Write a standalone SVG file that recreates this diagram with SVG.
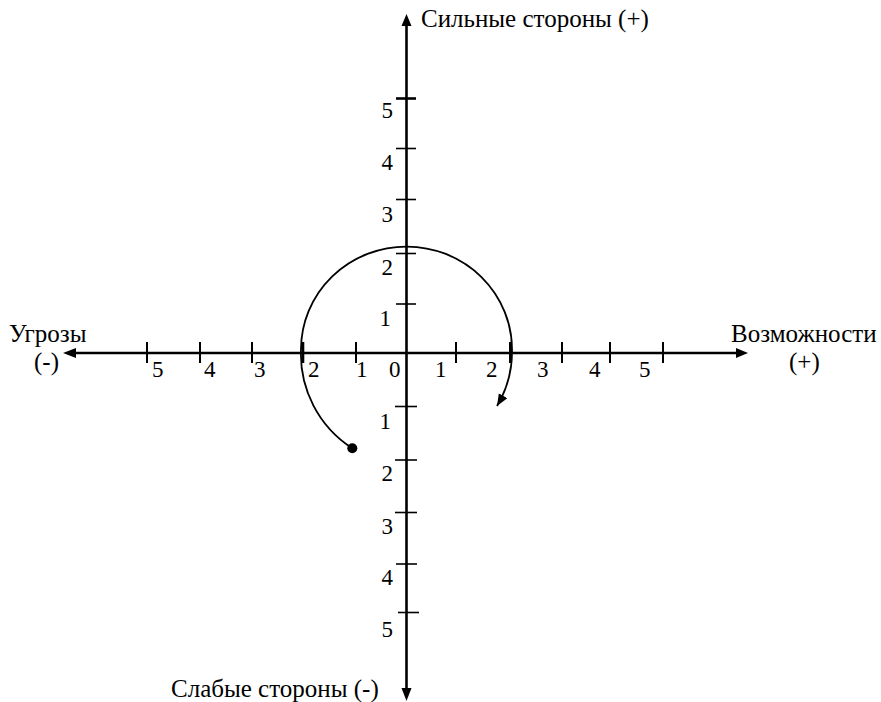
<svg xmlns="http://www.w3.org/2000/svg" width="881" height="702" viewBox="0 0 881 702">
<defs>
<style>
.ax{stroke:#000;stroke-width:2.6;fill:none}
.tk{stroke:#000;stroke-width:2;fill:none}
.tt{stroke-width:1.6}
.cv{stroke:#000;stroke-width:1.8;fill:none}
.hd{fill:#000}
text{font-family:"Liberation Serif","Times New Roman",serif;fill:#000}
.n{font-size:23px}
.lb{font-size:25px}
</style>
<marker id="ah" markerUnits="userSpaceOnUse" markerWidth="14" markerHeight="12" refX="12" refY="5" orient="auto">
<path d="M0,0 L12,5 L0,10 Z" fill="#000"/>
</marker>
</defs>
<rect width="881" height="702" fill="#fff"/>
<g id="connectors">
<line class="ax" x1="406.5" y1="24" x2="406.5" y2="690"/>
<line class="ax" x1="74" y1="353" x2="738" y2="353"/>
<path class="hd" d="M736,348 L748,353 L736,358 Z"/>
<path class="hd" d="M76,348 L63,353 L76,358 Z"/>
<path class="hd" d="M406.5,14 L401.5,26 L411.5,26 Z"/>
<path class="hd" d="M406.5,701 L401.5,688 L411.5,688 Z"/>
</g>
<g id="ticks">
<line class="tk" x1="147" y1="342" x2="147" y2="363"/>
<line class="tk" x1="200" y1="342" x2="200" y2="363"/>
<line class="tk" x1="252" y1="342" x2="252" y2="363"/>
<line class="tk" x1="303" y1="342" x2="303" y2="363" style="stroke-width:2.6"/>
<line class="tk" x1="356" y1="342" x2="356" y2="363"/>
<line class="tk" x1="456" y1="342" x2="456" y2="363"/>
<line class="tk" x1="510.5" y1="342" x2="510.5" y2="363" style="stroke-width:3"/>
<line class="tk" x1="562" y1="342" x2="562" y2="363"/>
<line class="tk" x1="610" y1="342" x2="610" y2="363"/>
<line class="tk" x1="663" y1="342" x2="663" y2="363"/>
<line class="tk" x1="396" y1="98.5" x2="416" y2="98.5" style="stroke-width:2.6"/>
<line class="tk tt" x1="396" y1="148.5" x2="416" y2="148.5"/>
<line class="tk tt" x1="396" y1="199.5" x2="416" y2="199.5"/>
<line class="tk tt" x1="396" y1="253.5" x2="416" y2="253.5"/>
<line class="tk tt" x1="396" y1="304" x2="416" y2="304"/>
<line class="tk tt" x1="395" y1="406.5" x2="417" y2="406.5"/>
<line class="tk tt" x1="395" y1="460" x2="417" y2="460"/>
<line class="tk tt" x1="395" y1="512.5" x2="417" y2="512.5"/>
<line class="tk tt" x1="396" y1="564" x2="417" y2="564"/>
<line class="tk tt" x1="398" y1="612.5" x2="419" y2="612.5"/>
</g>
<g id="arc">
<path class="cv" d="M352,448 A112,112 0 0 1 301,349 A105.5,103 0 0 1 512,350 A106,106 0 0 1 497,406" marker-end="url(#ah)"/>
<circle cx="352.3" cy="448.3" r="5" fill="#000"/>
</g>
<g id="labels-v">
<text class="n" x="393" y="118" text-anchor="end">5</text>
<text class="n" x="393" y="170" text-anchor="end">4</text>
<text class="n" x="393" y="222" text-anchor="end">3</text>
<text class="n" x="393" y="275" text-anchor="end">2</text>
<text class="n" x="391" y="326" text-anchor="end">1</text>
<text class="n" x="391" y="429" text-anchor="end">1</text>
<text class="n" x="393" y="481" text-anchor="end">2</text>
<text class="n" x="393" y="534" text-anchor="end">3</text>
<text class="n" x="393" y="585" text-anchor="end">4</text>
<text class="n" x="393" y="637" text-anchor="end">5</text>
</g>
<g id="labels-h">
<text class="n" x="152" y="377">5</text>
<text class="n" x="204" y="377">4</text>
<text class="n" x="254" y="377">3</text>
<text class="n" x="308" y="377">2</text>
<text class="n" x="356" y="377">1</text>
<text class="n" x="389" y="377">0</text>
<text class="n" x="435" y="377">1</text>
<text class="n" x="486" y="377">2</text>
<text class="n" x="537" y="377">3</text>
<text class="n" x="589" y="377">4</text>
<text class="n" x="639" y="377">5</text>
</g>
<g id="axis-titles">
<text class="lb" x="421" y="27">Сильные стороны (+)</text>
<text class="lb" x="9" y="342">Угрозы</text>
<text class="lb" x="34" y="370">(-)</text>
<text class="lb" x="731" y="342">Возможности</text>
<text class="lb" x="789" y="370">(+)</text>
<text class="lb" x="171" y="697">Слабые стороны (-)</text>
</g>
</svg>
